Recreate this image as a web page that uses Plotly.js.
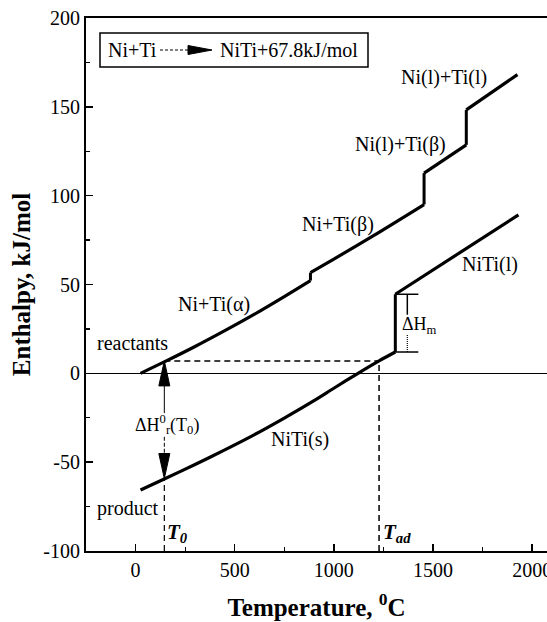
<!DOCTYPE html>
<html>
<head>
<meta charset="utf-8">
<script src="https://cdn.plot.ly/plotly-3.0.1.min.js"></script>
<style>html,body{margin:0;padding:0;background:#fff;}#chart{width:547px;height:622px;}</style>
</head>
<body>
<div id="chart"></div>
<script>
// ---- data ----
// Reactants Ni+Ti : temperature (°C) and enthalpy (kJ/mol); repeated T = phase-change jump
const reactT = [25, 150, 300, 450, 600, 750, 882, 882, 1000, 1200, 1455, 1455, 1668, 1668, 1926];
const reactH = [0, 6.7, 15.1, 24, 33.3, 43.2, 52.2, 56.7, 64.3, 77.5, 95, 112.7, 128.6, 148.3, 168.1];
// Product NiTi
const prodT = [25, 150, 300, 450, 600, 750, 900, 1000, 1122, 1228, 1310, 1310, 1931];
const prodH = [-65.7, -59.2, -51.3, -43.1, -34.5, -25.2, -15.4, -8.4, 0, 7, 12, 44.5, 89.2];
// characteristic temperatures / enthalpies
const T0 = 145;          // initial temperature
const Tad = 1228;        // adiabatic temperature
const H_T0_react = 7;    // reactant enthalpy at T0 (= product enthalpy at Tad)
const H_T0_prod = -59.2; // product enthalpy at T0
const Tm = 1310;         // NiTi melting
const Hm_low = 12, Hm_high = 44.5;
const xTicks = [0, 500, 1000, 1500, 2000];
const yTicks = [-100, -50, 0, 50, 100, 150, 200];

// ---- layout helpers ----
const XR = [-250, 2075], YR = [-100, 200];
const W = 547, H = 622, M = {l: 86, r: 0, t: 18, b: 71};
const sx = (XR[1] - XR[0]) / (W - M.l - M.r);   // data units per px (x)
const sy = (YR[1] - YR[0]) / (H - M.t - M.b);   // data units per px (y)
const FONT = 'Liberation Serif, Times New Roman, serif';

function vTri(x, yTip, dir, lenPx, halfPx) {
  const yb = yTip - dir * lenPx * sy;
  return {type: 'path', xref: 'x', yref: 'y', fillcolor: 'black', line: {color: 'black', width: 1},
    path: `M ${x - halfPx * sx},${yb} L ${x},${yTip} L ${x + halfPx * sx},${yb} Z`};
}
function hTri(xTip, y, lenPx, halfPx) {
  const xb = xTip - lenPx * sx;
  return {type: 'path', xref: 'x', yref: 'y', fillcolor: 'black', line: {color: 'black', width: 1},
    path: `M ${xb},${y - halfPx * sy} L ${xTip},${y} L ${xb},${y + halfPx * sy} Z`};
}
function seg(x0, y0, x1, y1, width, dash) {
  return {type: 'line', xref: 'x', yref: 'y', x0, y0, x1, y1,
    line: {color: 'black', width: width, dash: dash || 'solid'}};
}

// split a curve at its phase-change jumps: smooth segments + straight vertical jumps
function curveTraces(T, Hs) {
  const out = [];
  let xs = [T[0]], ys = [Hs[0]];
  const base = {mode: 'lines', hoverinfo: 'skip', showlegend: false};
  for (let i = 1; i < T.length; i++) {
    if (T[i] === T[i - 1]) {
      out.push(Object.assign({x: xs, y: ys, line: {color: 'black', width: 3.2, shape: 'spline', smoothing: 0.8}}, base));
      out.push(Object.assign({x: [T[i - 1], T[i]], y: [Hs[i - 1], Hs[i]], line: {color: 'black', width: 3}}, base));
      xs = [T[i]]; ys = [Hs[i]];
    } else { xs.push(T[i]); ys.push(Hs[i]); }
  }
  out.push(Object.assign({x: xs, y: ys, line: {color: 'black', width: 3.2, shape: 'spline', smoothing: 0.8}}, base));
  return out;
}
const traces = curveTraces(reactT, reactH).concat(curveTraces(prodT, prodH));

// box legend geometry (style positions, px converted to data)
const boxX0 = XR[0] + (100 - M.l) * sx, boxX1 = XR[0] + (368 - M.l) * sx;
const boxY1 = YR[1] - (33 - M.t) * sy, boxY0 = YR[1] - (67 - M.t) * sy;
const boxYc = (boxY0 + boxY1) / 2;
const arrX0 = XR[0] + (160 - M.l) * sx, arrXTip = XR[0] + (212 - M.l) * sx;

const DASH = '6px,4px';
const shapes = [
  // reaction box
  {type: 'rect', xref: 'x', yref: 'y', x0: boxX0, x1: boxX1, y0: boxY0, y1: boxY1, line: {color: 'black', width: 1.5}},
  seg(arrX0, boxYc, arrXTip - 20 * sx, boxYc, 1, '3px,2px'),
  hTri(arrXTip, boxYc, 24, 4.5),
  // dashed construction lines
  seg(T0, H_T0_react, Tad, H_T0_react, 1.5, DASH),
  seg(Tad, YR[0], Tad, H_T0_react, 1.5, DASH),
  seg(T0, YR[0], T0, H_T0_prod, 1.2, DASH),
  // ΔH°r(T0) double arrow
  seg(T0, H_T0_react - 24 * sy, T0, -22.4, 1),
  seg(T0, -35.7, T0, H_T0_prod + 24 * sy, 1, '4px,2px'),
  vTri(T0, H_T0_react, 1, 25, 5.5),
  vTri(T0, H_T0_prod, -1, 25, 5.5),
  // ΔHm bracket
  seg(Tm, Hm_high, Tm + 23 * sx, Hm_high, 1.5),
  seg(Tm, Hm_low, Tm + 23 * sx, Hm_low, 1.5),
  seg(Tm + 12 * sx, Hm_high, Tm + 12 * sx, 33, 1.5),
  seg(Tm + 12 * sx, 21.6, Tm + 12 * sx, Hm_low, 1.2, '1px,1px')
];

function lab(x, y, text, size, extra) {
  return Object.assign({x, y, xref: 'x', yref: 'y', text, showarrow: false,
    font: {family: FONT, size: size || 20, color: 'black'}}, extra || {});
}
const annotations = [
  lab(-13, boxYc, 'Ni+Ti', 20),
  lab(775, boxYc, 'NiTi+67.8kJ/mol', 20),
  lab(1557, 166.4, 'Ni(l)+Ti(l)', 20),
  lab(1335, 128.6, 'Ni(l)+Ti(\u03b2)', 20),
  lab(1023, 83.5, 'Ni+Ti(\u03b2)', 20),
  lab(395, 39, 'Ni+Ti(\u03b1)', 20),
  lab(-18, 17, 'reactants', 20),
  lab(-40, -76, 'product', 20),
  lab(831, -37, 'NiTi(s)', 20),
  lab(1788, 61, 'NiTi(l)', 20),
  lab(156, -29, '\u0394H<sup>0</sup><sub>r</sub>(T<sub>0</sub>)', 18),
  lab(Tm + 5 * sx, 27.2, '\u0394H<sub>m</sub>', 18, {xanchor: 'left'}),
  lab(212, -90, '<b><i>T<sub>0</sub></i></b>', 21),
  lab(1320, -89.6, '<b><i>T<sub>ad</sub></i></b>', 21)
];

const axisCommon = {
  showline: true, linecolor: 'black', linewidth: 2,
  ticks: 'inside', ticklen: 7, tickwidth: 1.5, tickcolor: 'black',
  showgrid: false, tickfont: {family: FONT, size: 20, color: 'black'},
  automargin: false, ticklabeloverflow: 'allow'
};

const layout = {
  width: W, height: H, margin: M,
  paper_bgcolor: 'white', plot_bgcolor: 'white',
  font: {family: FONT, color: 'black'},
  showlegend: false,
  xaxis: Object.assign({}, axisCommon, {
    range: XR, tickvals: xTicks, ticktext: xTicks.map(String), mirror: true, zeroline: false,
    minor: {ticks: 'inside', ticklen: 4, tickwidth: 1.2, tickcolor: 'black', dtick: 250, tick0: 0},
    title: {text: '<b>Temperature, <sup>0</sup>C</b>', font: {family: FONT, size: 25, color: 'black'}, standoff: 18}
  }),
  yaxis: Object.assign({}, axisCommon, {
    range: YR, tickvals: yTicks, ticktext: yTicks.map(String), mirror: false,
    zeroline: true, zerolinecolor: 'black', zerolinewidth: 1.5,
    minor: {ticks: 'inside', ticklen: 4, tickwidth: 1.2, tickcolor: 'black', dtick: 25, tick0: 0},
    title: {text: '<b>Enthalpy, kJ/mol</b>', font: {family: FONT, size: 25, color: 'black'}, standoff: 6}
  }),
  shapes, annotations
};

Plotly.newPlot('chart', traces, layout, {staticPlot: true, displayModeBar: false});
</script>
</body>
</html>
